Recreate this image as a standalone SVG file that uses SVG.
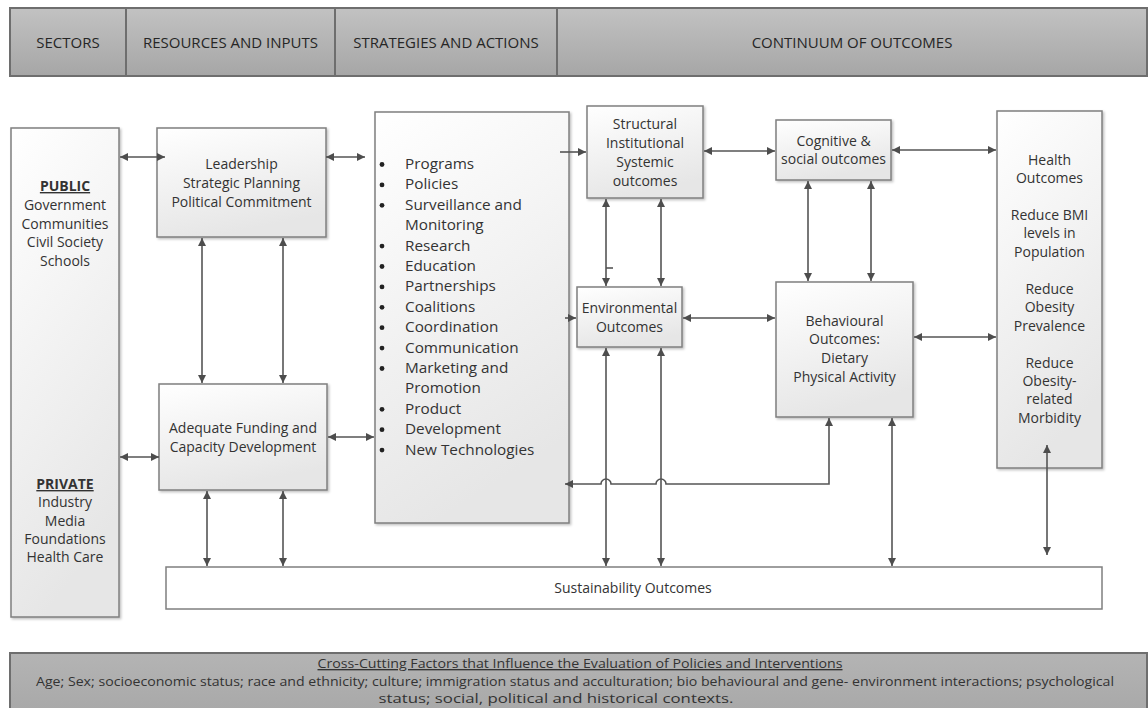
<svg xmlns="http://www.w3.org/2000/svg" width="1148" height="708" viewBox="0 0 1148 708">
<style>
text{font-family:"Open Sans","Noto Sans","DejaVu Sans",sans-serif;fill:#333;}
.hd{font-size:15px;text-anchor:middle;fill:#262626;}
.nd{fill:url(#ng);stroke:#7f7f7f;stroke-width:1.5;filter:url(#sh);}
.c{text-anchor:middle;font-size:14px;}
.b{font-size:15.3px;}
.ln{fill:none;stroke:#555;stroke-width:1.6;}
.two{marker-start:url(#ah);marker-end:url(#ah);}
.one{marker-end:url(#ah);}
.u{text-decoration:underline;font-weight:bold;}
</style>
<defs>
<linearGradient id="ng" x1="0" y1="0" x2="0.3" y2="1">
<stop offset="0" stop-color="#ffffff"/>
<stop offset="1" stop-color="#e6e6e6"/>
</linearGradient>
<linearGradient id="hg" x1="0" y1="0" x2="0" y2="1">
<stop offset="0" stop-color="#c2c2c2"/>
<stop offset="1" stop-color="#a6a6a6"/>
</linearGradient>
<linearGradient id="cg" x1="0" y1="0" x2="0" y2="1">
<stop offset="0" stop-color="#b4b4b4"/>
<stop offset="1" stop-color="#a8a8a8"/>
</linearGradient>
<filter id="sh" x="-10%" y="-10%" width="130%" height="130%">
<feDropShadow dx="1.5" dy="1.5" stdDeviation="1.2" flood-color="#000" flood-opacity="0.25"/>
</filter>
<marker id="ah" viewBox="0 0 10 10" refX="10" refY="5" markerWidth="9" markerHeight="8" orient="auto-start-reverse" markerUnits="userSpaceOnUse">
<path d="M0,0 L10,5 L0,10 z" fill="#4d4d4d"/>
</marker>
</defs>
<rect width="1148" height="708" fill="#ffffff"/>

<g id="header">
<rect x="10" y="8" width="1137" height="68" fill="url(#hg)" stroke="#6e6e6e" stroke-width="2"/>
<line x1="126" y1="8" x2="126" y2="76" stroke="#6e6e6e" stroke-width="2"/>
<line x1="335" y1="8" x2="335" y2="76" stroke="#6e6e6e" stroke-width="2"/>
<line x1="557" y1="8" x2="557" y2="76" stroke="#6e6e6e" stroke-width="2"/>
<text class="hd" x="68" y="48">SECTORS</text>
<text class="hd" x="230.5" y="48">RESOURCES AND INPUTS</text>
<text class="hd" x="446" y="48">STRATEGIES AND ACTIONS</text>
<text class="hd" x="852" y="48">CONTINUUM OF OUTCOMES</text>
</g>

<g id="sectors">
<rect class="nd" x="11" y="128" width="108" height="489"/>
<text class="c u" x="65" y="191">PUBLIC</text>
<text class="c" x="65" y="210">Government</text>
<text class="c" x="65" y="229">Communities</text>
<text class="c" x="65" y="247">Civil Society</text>
<text class="c" x="65" y="266">Schools</text>
<text class="c u" x="65" y="489">PRIVATE</text>
<text class="c" x="65" y="507">Industry</text>
<text class="c" x="65" y="526">Media</text>
<text class="c" x="65" y="544">Foundations</text>
<text class="c" x="65" y="562">Health Care</text>
</g>

<g id="leadership">
<rect class="nd" x="157" y="128" width="169" height="109"/>
<text class="c" x="241.5" y="169" font-size="15">Leadership</text>
<text class="c" x="241.5" y="188" font-size="15">Strategic Planning</text>
<text class="c" x="241.5" y="207" font-size="15">Political Commitment</text>
</g>

<g id="funding">
<rect class="nd" x="159" y="384" width="168" height="106"/>
<text class="c" x="243" y="433" font-size="14.5">Adequate Funding and</text>
<text class="c" x="243" y="452" font-size="14.5">Capacity Development</text>
</g>

<g id="strategies">
<rect class="nd" x="375" y="112" width="194" height="411"/>
<g fill="#222">
<circle cx="382" cy="164.5" r="2.4"/>
<circle cx="382" cy="184.9" r="2.4"/>
<circle cx="382" cy="205.3" r="2.4"/>
<circle cx="382" cy="246.1" r="2.4"/>
<circle cx="382" cy="266.5" r="2.4"/>
<circle cx="382" cy="286.9" r="2.4"/>
<circle cx="382" cy="307.3" r="2.4"/>
<circle cx="382" cy="327.7" r="2.4"/>
<circle cx="382" cy="348.1" r="2.4"/>
<circle cx="382" cy="368.5" r="2.4"/>
<circle cx="382" cy="409.3" r="2.4"/>
<circle cx="382" cy="429.7" r="2.4"/>
<circle cx="382" cy="450.1" r="2.4"/>
</g>
<text class="b" x="405" y="169">Programs</text>
<text class="b" x="405" y="189.4">Policies</text>
<text class="b" x="405" y="209.8">Surveillance and</text>
<text class="b" x="405" y="230.2">Monitoring</text>
<text class="b" x="405" y="250.6">Research</text>
<text class="b" x="405" y="271">Education</text>
<text class="b" x="405" y="291.4">Partnerships</text>
<text class="b" x="405" y="311.8">Coalitions</text>
<text class="b" x="405" y="332.2">Coordination</text>
<text class="b" x="405" y="352.6">Communication</text>
<text class="b" x="405" y="373">Marketing and</text>
<text class="b" x="405" y="393.4">Promotion</text>
<text class="b" x="405" y="413.8">Product</text>
<text class="b" x="405" y="434.2">Development</text>
<text class="b" x="405" y="454.6">New Technologies</text>
</g>

<g id="structural">
<rect class="nd" x="587" y="106" width="116" height="92"/>
<text class="c" x="645" y="129" font-size="13.8">Structural</text>
<text class="c" x="645" y="148" font-size="13.8">Institutional</text>
<text class="c" x="645" y="167" font-size="13.8">Systemic</text>
<text class="c" x="645" y="186" font-size="13.8">outcomes</text>
</g>

<g id="environmental">
<rect class="nd" x="577" y="287" width="105" height="60"/>
<text class="c" x="629.5" y="313">Environmental</text>
<text class="c" x="629.5" y="332">Outcomes</text>
</g>

<g id="cognitive">
<rect class="nd" x="776" y="120" width="115" height="60"/>
<text class="c" x="833.5" y="146" font-size="13.5">Cognitive &amp;</text>
<text class="c" x="833.5" y="164" font-size="13.5">social outcomes</text>
</g>

<g id="behavioural">
<rect class="nd" x="776" y="282" width="137" height="135"/>
<text class="c" x="844.5" y="326">Behavioural</text>
<text class="c" x="844.5" y="344">Outcomes:</text>
<text class="c" x="844.5" y="363">Dietary</text>
<text class="c" x="844.5" y="382">Physical Activity</text>
</g>

<g id="health">
<rect class="nd" x="997" y="111" width="105" height="357"/>
<text class="c" x="1049.5" y="164.5">Health</text>
<text class="c" x="1049.5" y="183">Outcomes</text>
<text class="c" x="1049.5" y="219.9">Reduce BMI</text>
<text class="c" x="1049.5" y="238.3">levels in</text>
<text class="c" x="1049.5" y="256.8">Population</text>
<text class="c" x="1049.5" y="293.7">Reduce</text>
<text class="c" x="1049.5" y="312.1">Obesity</text>
<text class="c" x="1049.5" y="330.6">Prevalence</text>
<text class="c" x="1049.5" y="367.5">Reduce</text>
<text class="c" x="1049.5" y="385.9">Obesity-</text>
<text class="c" x="1049.5" y="404.4">related</text>
<text class="c" x="1049.5" y="422.8">Morbidity</text>
</g>

<g id="sustainability">
<rect x="166" y="567" width="936" height="42" fill="#ffffff" stroke="#7f7f7f" stroke-width="1.5"/>
<text class="c" x="633" y="593">Sustainability Outcomes</text>
</g>

<g id="connectors">
<path class="ln two" d="M120,157 H165"/>
<path class="ln two" d="M326,157 H365"/>
<path class="ln two" d="M120,457 H159"/>
<path class="ln two" d="M328,437 H374"/>
<path class="ln two" d="M202,238 V383"/>
<path class="ln two" d="M283,238 V383"/>
<path class="ln two" d="M207,491 V566"/>
<path class="ln two" d="M283,491 V566"/>
<path class="ln one" d="M560,152 H586"/>
<path class="ln one" d="M565,318 H576"/>
<path class="ln two" d="M606,199 V286"/>
<path class="ln two" d="M661,199 V286"/>
<path class="ln" d="M606,268 H613"/>
<path class="ln two" d="M606,348 V566"/>
<path class="ln two" d="M661,348 V566"/>
<path class="ln two" d="M704,151 H775"/>
<path class="ln two" d="M683,318 H775"/>
<path class="ln two" d="M808,181 V281"/>
<path class="ln two" d="M871,181 V281"/>
<path class="ln two" d="M892,150 H996"/>
<path class="ln two" d="M914,337 H996"/>
<path class="ln two" d="M892,418 V566"/>
<path class="ln two" d="M1047,445 V555"/>
<path class="ln two" d="M829,418 V484 H666 a5,5 0 0 0 -10,0 H611 a5,5 0 0 0 -10,0 H565"/>
</g>

<g id="crosscutting">
<rect x="10" y="653" width="1137" height="60" fill="url(#cg)" stroke="#6e6e6e" stroke-width="2"/>
<text x="580" y="668" text-anchor="middle" font-size="13.5" text-decoration="underline" textLength="525" lengthAdjust="spacingAndGlyphs">Cross-Cutting Factors that Influence the Evaluation of Policies and Interventions</text>
<text x="575" y="685.5" text-anchor="middle" font-size="13.5" textLength="1078" lengthAdjust="spacingAndGlyphs">Age; Sex; socioeconomic status; race and ethnicity; culture; immigration status and acculturation; bio behavioural and gene- environment interactions; psychological</text>
<text x="556" y="703" text-anchor="middle" font-size="13.5" textLength="355" lengthAdjust="spacingAndGlyphs">status; social, political and historical contexts.</text>
</g>
</svg>
